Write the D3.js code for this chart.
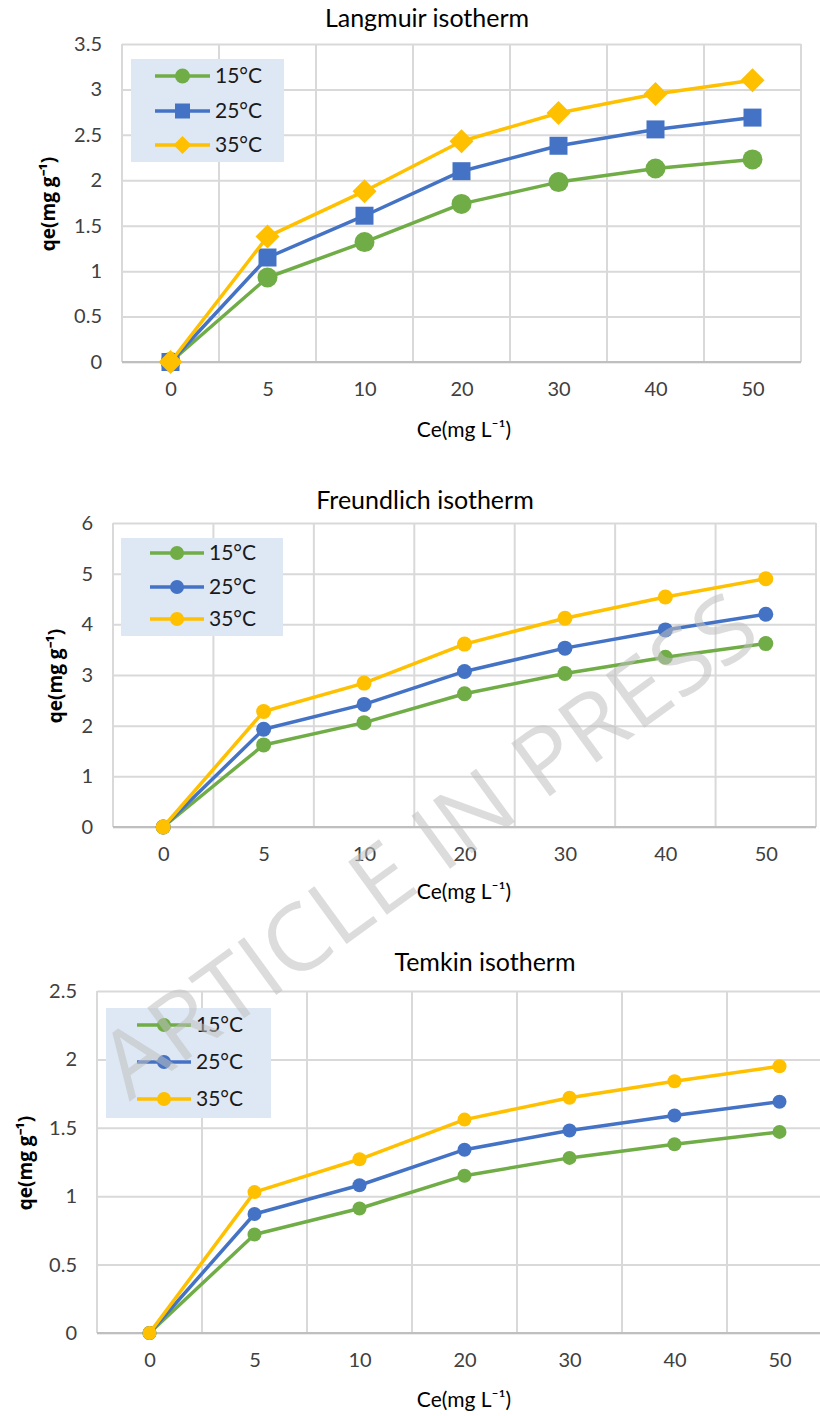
<!DOCTYPE html>
<html><head><meta charset="utf-8">
<script src="https://cdn.jsdelivr.net/npm/d3@7"></script>
<style>body{margin:0;background:#fff} svg{display:block}</style>
</head><body><svg id="c" width="820" height="1416"></svg>
<script>
// ---------- data ----------
const categories = ["0","5","10","20","30","40","50"];
const seriesNames = ["15°C","25°C","35°C"];
const seriesColors = ["#70ad47","#4472c4","#ffc000"];

const langmuir15 = [0, 0.93, 1.32, 1.74, 1.98, 2.13, 2.23];
const langmuir25 = [0, 1.15, 1.61, 2.10, 2.38, 2.56, 2.69];
const langmuir35 = [0, 1.38, 1.88, 2.43, 2.74, 2.95, 3.10];

const freundlich15 = [0, 1.62, 2.06, 2.63, 3.03, 3.35, 3.62];
const freundlich25 = [0, 1.93, 2.42, 3.07, 3.53, 3.89, 4.20];
const freundlich35 = [0, 2.28, 2.84, 3.61, 4.12, 4.54, 4.90];

const temkin15 = [0, 0.72, 0.91, 1.15, 1.28, 1.38, 1.47];
const temkin25 = [0, 0.87, 1.08, 1.34, 1.48, 1.59, 1.69];
const temkin35 = [0, 1.03, 1.27, 1.56, 1.72, 1.84, 1.95];

const langmuirTicks = [0, 0.5, 1, 1.5, 2, 2.5, 3, 3.5];
const freundlichTicks = [0, 1, 2, 3, 4, 5, 6];
const temkinTicks = [0, 0.5, 1, 1.5, 2, 2.5];

const chartTitles = ["Langmuir isotherm", "Freundlich isotherm", "Temkin isotherm"];
const xAxisTitle = "Ce(mg L\u207B\u00B9)";
const yAxisTitle = "qe(mg g\u207B\u00B9)";
const watermarkText = "ARTICLE IN PRESS";

// ---------- layout ----------
const charts = [
  { title: chartTitles[0], series: [langmuir15, langmuir25, langmuir35], ticks: langmuirTicks,
    plot: {l: 122, r: 801, t: 44, b: 362}, titleX: 427, titleY: 18,
    xTitleX: 464, xTitleY: 430, yTitleX: 48, yTitleY: 204,
    markers: ["circle", "square", "diamond"], mSize: [10, 9, 12], lmSize: [7.5, 7.5, 9],
    legend: {x: 131, y: 59, w: 153, h: 103, rows: [76, 111, 145], lx1: 155, lx2: 210, tx: 215} },
  { title: chartTitles[1], series: [freundlich15, freundlich25, freundlich35], ticks: freundlichTicks,
    plot: {l: 113, r: 816, t: 523, b: 827}, titleX: 425, titleY: 500,
    xTitleX: 464, xTitleY: 892, yTitleX: 55, yTitleY: 676,
    markers: ["circle", "circle", "circle"], mSize: [7.5, 7.5, 7.5], lmSize: [7, 7, 7],
    legend: {x: 121, y: 538, w: 162, h: 98, rows: [553, 587, 619], lx1: 150, lx2: 204, tx: 209} },
  { title: chartTitles[2], series: [temkin15, temkin25, temkin35], ticks: temkinTicks,
    plot: {l: 97, r: 832, t: 991, b: 1333}, titleX: 485, titleY: 962,
    xTitleX: 464, xTitleY: 1400, yTitleX: 25, yTitleY: 1163,
    markers: ["circle", "circle", "circle"], mSize: [7, 7, 7], lmSize: [7, 7, 7],
    legend: {x: 106, y: 1008, w: 165, h: 110, rows: [1025, 1062, 1099], lx1: 137, lx2: 191, tx: 196} }
];

const svg = d3.select("#c");
const FONT = "Lato, 'Open Sans', sans-serif";
const GRID = "#d9d9d9";

function markerPath(type, s) {
  if (type === "circle") return d3.symbol(d3.symbolCircle, Math.PI * s * s)();
  if (type === "square") return d3.symbol(d3.symbolSquare, 4 * s * s)();
  // diamond: square rotated 45°, s = half diagonal
  return `M0,${-s}L${s},0L0,${s}L${-s},0Z`;
}

charts.forEach(ch => {
  const g = svg.append("g");
  const p = ch.plot;
  const xb = d3.scaleBand().domain(categories).range([p.l, p.r]);
  const xc = c => xb(c) + xb.bandwidth() / 2;
  const y = d3.scaleLinear().domain([0, d3.max(ch.ticks)]).range([p.b, p.t]);

  // horizontal gridlines + y tick labels
  const ga = g.append("g").attr("transform", `translate(${p.l},0)`)
    .call(d3.axisLeft(y).tickValues(ch.ticks).tickSize(-(p.r - p.l)).tickPadding(20)
      .tickFormat(d => d3.format("~g")(d)));
  ga.select(".domain").remove();
  ga.selectAll("line").attr("stroke", GRID).attr("stroke-width", 2);
  ga.selectAll("text").attr("font-family", FONT).attr("font-size", 20).attr("fill", "#404040");

  // vertical gridlines at category boundaries
  const bounds = categories.map(c => xb(c)).concat([p.r]);
  g.append("g").selectAll("line").data(bounds).join("line")
    .attr("x1", d => d).attr("x2", d => d).attr("y1", p.t).attr("y2", p.b)
    .attr("stroke", GRID).attr("stroke-width", 2);

  // x axis labels
  const xa = g.append("g").attr("transform", `translate(0,${p.b})`)
    .call(d3.axisBottom(d3.scalePoint().domain(categories).range([xc(categories[0]), xc(categories[categories.length - 1])]))
      .tickSize(0).tickPadding(20));
  xa.select(".domain").attr("stroke", "#bfbfbf").attr("stroke-width", 2).attr("d", `M${p.l},0H${p.r}`);
  xa.selectAll("text").attr("font-family", FONT).attr("font-size", 20).attr("fill", "#404040");

  // series
  ch.series.forEach((vals, i) => {
    const pts = vals.map((v, k) => [xc(categories[k]), y(v)]);
    g.append("path").attr("d", d3.line()(pts)).attr("fill", "none")
      .attr("stroke", seriesColors[i]).attr("stroke-width", 3.5).attr("stroke-linejoin", "round");
    g.append("g").selectAll("path").data(pts).join("path")
      .attr("transform", d => `translate(${d[0]},${d[1]})`)
      .attr("d", markerPath(ch.markers[i], ch.mSize[i])).attr("fill", seriesColors[i]);
  });

  // legend
  const L = ch.legend;
  g.append("rect").attr("x", L.x).attr("y", L.y).attr("width", L.w).attr("height", L.h).attr("fill", "#dee8f4");
  seriesNames.forEach((n, i) => {
    const ry = L.rows[i];
    g.append("line").attr("x1", L.lx1).attr("x2", L.lx2).attr("y1", ry).attr("y2", ry)
      .attr("stroke", seriesColors[i]).attr("stroke-width", 3.5);
    g.append("path").attr("transform", `translate(${(L.lx1 + L.lx2) / 2},${ry})`)
      .attr("d", markerPath(ch.markers[i], ch.lmSize[i])).attr("fill", seriesColors[i]);
    g.append("text").attr("x", L.tx).attr("y", ry).attr("dy", "0.35em").text(n)
      .attr("font-family", FONT).attr("font-size", 21).attr("fill", "#1a1a1a");
  });

  // titles
  g.append("text").attr("x", ch.titleX).attr("y", ch.titleY).attr("dy", "0.35em").attr("text-anchor", "middle")
    .attr("font-family", FONT).attr("font-size", 25).attr("fill", "#000").text(ch.title);
  g.append("text").attr("x", ch.xTitleX).attr("y", ch.xTitleY).attr("dy", "0.35em").attr("text-anchor", "middle")
    .attr("font-family", FONT).attr("font-size", 21).attr("fill", "#000").text(xAxisTitle);
  g.append("text").attr("transform", `translate(${ch.yTitleX},${ch.yTitleY}) rotate(-90)`)
    .attr("dy", "0.35em").attr("text-anchor", "middle")
    .attr("font-family", "'Open Sans', sans-serif").attr("font-weight", "bold").attr("font-size", 19)
    .attr("fill", "#000").text(yAxisTitle);
});

// watermark
svg.append("text").attr("transform", "translate(428,845) rotate(-36)")
  .attr("text-anchor", "middle").attr("dy", "0.35em")
  .attr("font-family", "'Open Sans', sans-serif").attr("font-weight", 400).attr("font-size", 92)
  .attr("textLength", 785).attr("lengthAdjust", "spacingAndGlyphs")
  .attr("fill", "#bfbfbf").attr("fill-opacity", 0.55).text(watermarkText);
</script></body></html>
